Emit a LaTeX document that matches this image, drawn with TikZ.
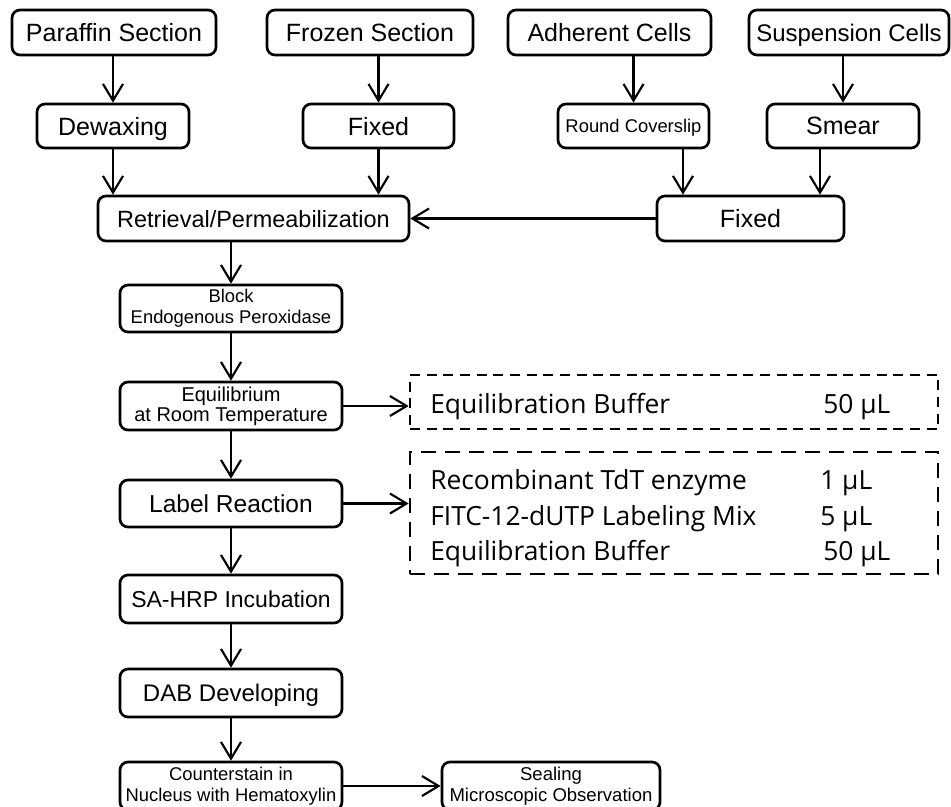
\documentclass[tikz,border=0pt]{standalone}
\usepackage{fontspec}
\setmainfont{Liberation Sans}
\newfontfamily\dfont{Open Sans}
\usetikzlibrary{arrows.meta}
\begin{document}
\begin{tikzpicture}[x=0.75pt,y=-0.75pt,
  bx/.style={draw, rounded corners=6pt, line width=2pt, inner sep=0pt, align=center},
  one/.style={text depth=0pt},
  wh/.style 2 args={minimum width=#1*0.75pt, minimum height=#2*0.75pt},
  sz/.style 2 args={font=\fontsize{#1}{#2}\selectfont},
  arr/.style={line width=1.6pt, -{Straight Barb[length=12.5pt,width=15pt,line width=1.6pt]}},
  dbox/.style={draw, line width=2pt, inner sep=0pt},
  dtext/.style={inner sep=0pt, anchor=base west, font=\dfont\fontsize{19.8}{22}\selectfont}]
\useasboundingbox (0,0) rectangle (951,807);
% top row
\node[bx, one, wh={204}{45}, sz={18.75}{22}] (par) at (114,32.5) {Paraffin Section};
\node[bx, one, wh={206}{45}, sz={18.75}{22}] (fro) at (370,32.5) {Frozen Section};
\node[bx, one, wh={203}{45}, sz={18.75}{22}] (adh) at (609.5,32.5) {Adherent Cells};
\node[bx, one, wh={200}{45}, sz={18}{22}] (sus) at (849,32.5) {Suspension Cells};
% second row
\node[bx, one, wh={152}{44}, sz={18.75}{22}] (dew) at (113,126) {Dewaxing};
\node[bx, one, wh={151}{44}, sz={18.75}{22}] (fx1) at (378.5,126) {Fixed};
\node[bx, one, wh={151}{44}, sz={13.8}{16}] (rcs) at (633.5,126) {Round Coverslip};
\node[bx, one, wh={152}{44}, sz={18.75}{22}] (smr) at (843,126) {Smear};
% third row
\node[bx, one, wh={311}{45}, sz={17.6}{21}] (ret) at (253.5,218.5) {Retrieval/Permeabilization};
\node[bx, one, wh={187}{45}, sz={18.75}{22}] (fx2) at (750.5,218.5) {Fixed};
% main column
\node[bx, wh={222}{47}, sz={13.8}{15.75}] (blk) at (231,308.5) {Block\\Endogenous Peroxidase};
\node[bx, wh={222}{48}, sz={15}{15}] (equ) at (231,406) {Equilibrium\\at Room Temperature};
\node[bx, one, wh={222}{47}, sz={18.4}{22}] (lab) at (231,503.5) {Label Reaction};
\node[bx, one, wh={222}{48}, sz={17.25}{21}] (sah) at (231,599) {SA-HRP Incubation};
\node[bx, one, wh={222}{48}, sz={18}{22}] (dab) at (231,693) {DAB Developing};
\node[bx, wh={222}{48}, sz={13.8}{15.75}] (cst) at (231,786) {Counterstain in\\Nucleus with Hematoxylin};
\node[bx, wh={218}{48}, sz={13.9}{15.75}] (sea) at (551,786) {Sealing\\Microscopic Observation};
% dashed boxes
\node[dbox, wh={528}{54}, dash pattern=on 7.5pt off 5pt] (d1) at (674,402) {};
\node[dbox, wh={528}{122}, dash pattern=on 11.5pt off 6.5pt] (d2) at (674,513) {};
\node[dtext] (t1) at (430,413) {Equilibration Buffer};
\node[dtext] (a1) at (823,413) {50 μL};
\node[dtext] (t2) at (430,489) {Recombinant TdT enzyme};
\node[dtext] (a2) at (820,489) {1 μL};
\node[dtext] (t3) at (430,525) {FITC-12-dUTP Labeling Mix};
\node[dtext] (a3) at (820,525) {5 μL};
\node[dtext] (t4) at (430,560) {Equilibration Buffer};
\node[dtext] (a4) at (823,560) {50 μL};
% connectors
\draw[arr] (par.south -| dew) -- (dew.north);
\draw[arr] (fro.south -| fx1) -- (fx1.north);
\draw[arr] (adh.south -| rcs) -- (rcs.north);
\draw[arr] (sus.south -| smr) -- (smr.north);
\draw[arr] (dew.south) -- (dew.south |- ret.north);
\draw[arr] (fx1.south) -- (fx1.south |- ret.north);
\coordinate (r1) at ([xshift=37.1pt]rcs.south);
\coordinate (s1) at ([xshift=-17.25pt]smr.south);
\draw[arr] (r1) -- (r1 |- fx2.north);
\draw[arr] (s1) -- (s1 |- fx2.north);
\draw[arr] (fx2.west) -- (ret.east);
\draw[arr] (ret.south -| blk) -- (blk.north);
\draw[arr] (blk.south) -- (equ.north);
\draw[arr] (equ.south) -- (lab.north);
\draw[arr] (lab.south) -- (sah.north);
\draw[arr] (sah.south) -- (dab.north);
\draw[arr] (dab.south) -- (cst.north);
\draw[arr] (equ.east) -- (equ.east -| d1.west);
\draw[arr] (lab.east) -- (lab.east -| d2.west);
\draw[arr] (cst.east) -- (sea.west);
\end{tikzpicture}
\end{document}
